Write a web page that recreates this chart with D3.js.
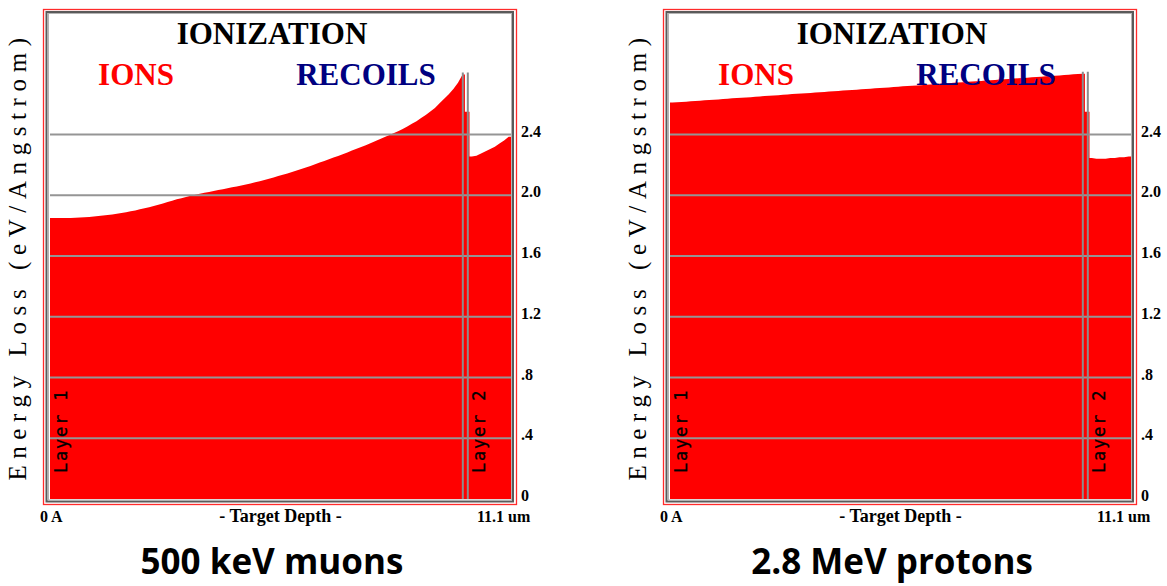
<!DOCTYPE html>
<html>
<head>
<meta charset="utf-8">
<script src="https://cdn.jsdelivr.net/npm/d3@7"></script>
<style>
  body { margin: 0; background: #fff; }
  svg { display: block; }
</style>
</head>
<body>
<svg id="chart" width="1167" height="586"></svg>
<script>
// Target depth range (um) and layer boundary
const depthMax = 11.1;
const layerBoundary = 10.0;
const layerNames = ["Layer 1", "Layer 2"];

// Energy-loss axis ticks (eV/Angstrom)
const lossTicks = [0, 0.4, 0.8, 1.2, 1.6, 2.0, 2.4];
const lossTickLabels = ["0", ".4", ".8", "1.2", "1.6", "2.0", "2.4"];
const depthLabels = ["0 A", "- Target Depth -", "11.1 um"];

// Ionization energy loss by ions, 100 depth bins
const muonLoss = [
  1.850, 1.850, 1.850, 1.850, 1.851, 1.852, 1.853, 1.855, 1.857, 1.860,
  1.863, 1.866, 1.870, 1.874, 1.878, 1.883, 1.888, 1.894, 1.900, 1.907,
  1.914, 1.921, 1.929, 1.937, 1.946, 1.955, 1.964, 1.973, 1.981, 1.989,
  1.996, 2.003, 2.010, 2.016, 2.022, 2.028, 2.034, 2.040, 2.046, 2.052,
  2.058, 2.064, 2.071, 2.078, 2.085, 2.092, 2.100, 2.108, 2.117, 2.126,
  2.135, 2.144, 2.153, 2.163, 2.173, 2.183, 2.193, 2.204, 2.215, 2.226,
  2.237, 2.248, 2.259, 2.270, 2.282, 2.294, 2.306, 2.318, 2.330, 2.343,
  2.356, 2.369, 2.382, 2.395, 2.408, 2.422, 2.437, 2.453, 2.470, 2.488,
  2.508, 2.529, 2.551, 2.575, 2.605, 2.635, 2.665, 2.700, 2.740, 2.795,
  2.550, 2.255, 2.260, 2.275, 2.290, 2.305, 2.320, 2.340, 2.360, 2.385
];
const protonLoss = [
  2.610, 2.612, 2.614, 2.616, 2.619, 2.621, 2.623, 2.625, 2.627, 2.629,
  2.631, 2.633, 2.636, 2.638, 2.640, 2.642, 2.644, 2.646, 2.648, 2.651,
  2.653, 2.655, 2.657, 2.659, 2.661, 2.663, 2.666, 2.668, 2.670, 2.672,
  2.674, 2.676, 2.678, 2.680, 2.683, 2.685, 2.687, 2.689, 2.691, 2.693,
  2.695, 2.698, 2.700, 2.702, 2.704, 2.706, 2.708, 2.710, 2.712, 2.715,
  2.717, 2.719, 2.721, 2.723, 2.725, 2.727, 2.730, 2.732, 2.734, 2.736,
  2.738, 2.740, 2.742, 2.744, 2.747, 2.749, 2.751, 2.753, 2.755, 2.757,
  2.759, 2.762, 2.764, 2.766, 2.768, 2.770, 2.772, 2.774, 2.777, 2.779,
  2.781, 2.783, 2.785, 2.787, 2.789, 2.791, 2.794, 2.796, 2.798, 2.800,
  2.550, 2.245, 2.240, 2.240, 2.240, 2.245, 2.245, 2.250, 2.250, 2.255
];

const captions = ["500 keV muons", "2.8 MeV protons"];
const headings = { title: "IONIZATION", ions: "IONS", recoils: "RECOILS" };
const yLabel = "Energy Loss (eV/Angstrom)";

const svg = d3.select("#chart");
svg.append("rect").attr("width", 1167).attr("height", 586).attr("fill", "#fff");

const plot = { left: 50, right: 511, top: 13, bottom: 499 };
const x = d3.scaleLinear().domain([0, depthMax]).range([plot.left, plot.right]);
const y = d3.scaleLinear().domain([0, 3.2]).range([plot.bottom, plot.top]);

const serif = "'Liberation Serif', 'Times New Roman', serif";

const panels = [
  { values: muonLoss, caption: captions[0], dx: 0 },
  { values: protonLoss, caption: captions[1], dx: 620 }
];

// Profile vertices: bin centres inside each layer, bin edges around the
// bin that straddles the layer interface so the jump stays vertical.
function profilePoints(values) {
  const n = values.length;
  const bw = depthMax / n;
  const b = Math.floor(layerBoundary / bw);
  const pts = [{ d: 0, v: values[0] }];
  values.forEach((v, i) => {
    if (i === b - 1) {
      pts.push({ d: (i + 0.5) * bw, v }, { d: (i + 1) * bw, v });
    } else if (i === b) {
      pts.push({ d: i * bw, v }, { d: (i + 1) * bw, v });
    } else if (i === b + 1) {
      pts.push({ d: i * bw, v }, { d: (i + 0.5) * bw, v });
    } else {
      pts.push({ d: (i + 0.5) * bw, v });
    }
  });
  pts.push({ d: depthMax, v: values[n - 1] });
  return pts;
}

panels.forEach(p => {
  const g = svg.append("g").attr("transform", `translate(${p.dx},0)`);

  // panel frames
  g.append("rect").attr("x", 43.5).attr("y", 9.5).attr("width", 473).attr("height", 495)
    .attr("fill", "none").attr("stroke", "#ff2a2a").attr("stroke-width", 1.3);
  g.append("rect").attr("x", 46.5).attr("y", 12).attr("width", 466.5).attr("height", 489.5)
    .attr("fill", "none").attr("stroke", "#5a5a5a").attr("stroke-width", 2);
  g.append("rect").attr("x", 48.5).attr("y", 13.5).attr("width", 463).attr("height", 486.5)
    .attr("fill", "none").attr("stroke", "#b4b4b4").attr("stroke-width", 1);

  // ionization profile
  const area = d3.area().curve(d3.curveLinear)
    .x(d => x(d.d)).y0(y(0)).y1(d => y(d.v));
  g.append("path").datum(profilePoints(p.values)).attr("d", area).attr("fill", "#ff0000");

  // horizontal grid lines over the profile
  g.selectAll("line.grid").data(lossTicks.filter(t => t > 0)).join("line")
    .attr("class", "grid")
    .attr("x1", plot.left).attr("x2", plot.right)
    .attr("y1", d => y(d)).attr("y2", d => y(d))
    .attr("stroke", "#959595").attr("stroke-width", 2);

  // layer boundary marks
  const topLine = y(d3.max(p.values)) - 2;
  [-2.5, 2.5].forEach(off => {
    g.append("line")
      .attr("x1", x(layerBoundary) + off).attr("x2", x(layerBoundary) + off)
      .attr("y1", topLine).attr("y2", plot.bottom)
      .attr("stroke", "#8c8c8c").attr("stroke-width", 2);
  });

  // layer names
  const layerStarts = [0, layerBoundary];
  layerStarts.forEach((d, i) => {
    const lx = (i === 0 ? x(d) : x(d) + 2.5) + 17;
    g.append("text")
      .attr("transform", `translate(${lx},473) rotate(-90)`)
      .attr("font-family", "'DejaVu Sans Mono', monospace")
      .attr("font-size", 17).attr("letter-spacing", 1.8)
      .attr("stroke", "#000").attr("stroke-width", 0.3)
      .attr("fill", "#000")
      .text(layerNames[i]);
  });

  // energy loss axis on the right
  const axis = d3.axisRight(y).tickValues(lossTicks)
    .tickFormat((d, i) => lossTickLabels[i]).tickSize(0).tickPadding(8);
  const ag = g.append("g").attr("transform", `translate(513,0)`).call(axis);
  ag.select(".domain").remove();
  ag.selectAll("text")
    .attr("dy", "0.1em")
    .attr("font-family", serif).attr("font-weight", "bold")
    .attr("font-size", 16).attr("fill", "#000");

  // depth labels
  g.append("text").attr("x", x(0) - 10).attr("y", 522)
    .attr("font-family", serif).attr("font-weight", "bold").attr("font-size", 16)
    .attr("xml:space", "preserve")
    .text(depthLabels[0]);
  g.append("text").attr("x", x(depthMax / 2)).attr("y", 522).attr("text-anchor", "middle")
    .attr("font-family", serif).attr("font-weight", "bold").attr("font-size", 18)
    .text(depthLabels[1]);
  g.append("text").attr("x", x(depthMax) - 34).attr("y", 522)
    .attr("font-family", serif).attr("font-weight", "bold").attr("font-size", 16)
    .text(depthLabels[2]);

  // headings
  g.append("text").attr("x", 272).attr("y", 44).attr("text-anchor", "middle")
    .attr("font-family", serif).attr("font-weight", "bold").attr("font-size", 31)
    .attr("fill", "#000").text(headings.title);
  g.append("text").attr("x", 136).attr("y", 85).attr("text-anchor", "middle")
    .attr("font-family", serif).attr("font-weight", "bold").attr("font-size", 31)
    .attr("fill", "#ff0000").text(headings.ions);
  g.append("text").attr("x", 366).attr("y", 85).attr("text-anchor", "middle")
    .attr("font-family", serif).attr("font-weight", "bold").attr("font-size", 31)
    .attr("fill", "#000080").text(headings.recoils);

  // vertical axis title
  g.append("text")
    .attr("transform", `translate(26,256) rotate(-90)`)
    .attr("text-anchor", "middle")
    .attr("font-family", serif).attr("font-size", 25).attr("letter-spacing", 6.6)
    .attr("fill", "#000").text(yLabel);

  // caption
  g.append("text").attr("x", 272).attr("y", 574).attr("text-anchor", "middle")
    .attr("font-family", "'Open Sans', Lato, sans-serif").attr("font-weight", "bold")
    .attr("font-size", 35).attr("fill", "#000").text(p.caption);
});
</script>
</body>
</html>
